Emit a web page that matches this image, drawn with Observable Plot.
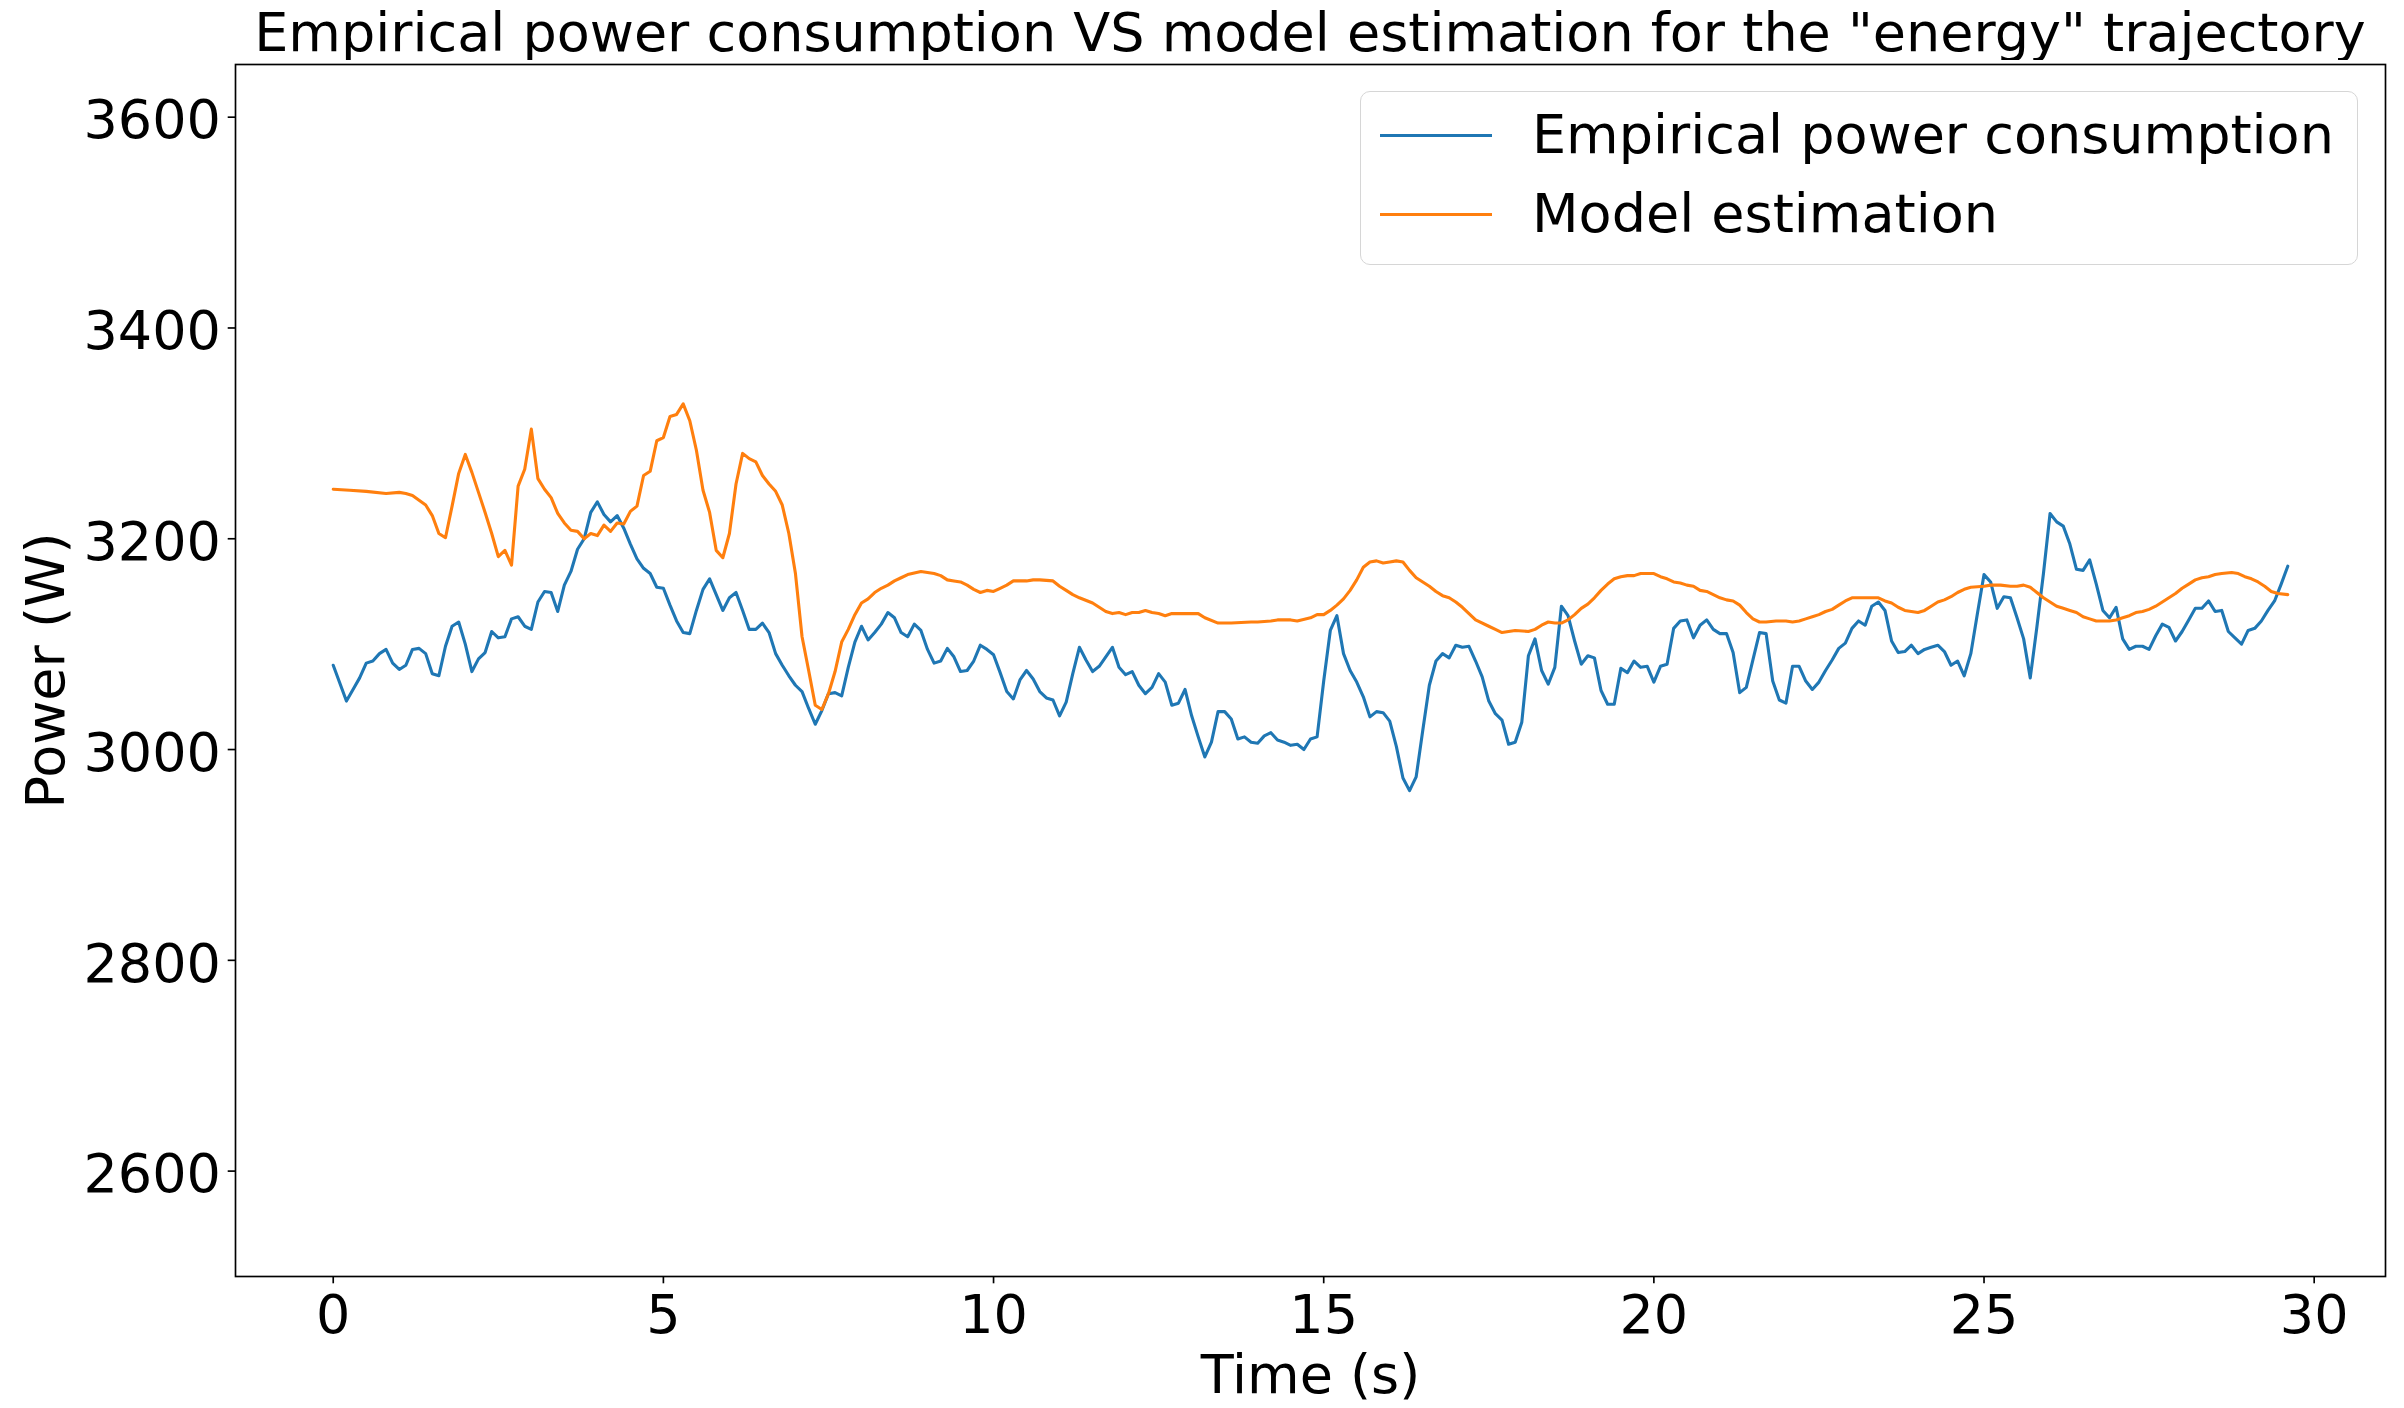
<!DOCTYPE html>
<html>
<head>
<meta charset="utf-8">
<script src="https://cdn.jsdelivr.net/npm/d3@7"></script>
<script src="https://cdn.jsdelivr.net/npm/@observablehq/plot@0.6"></script>
<style>
  html, body { margin: 0; padding: 0; background: white; }
  #wrap { position: relative; width: 2404px; height: 1408px; background: white; font-family: "DejaVu Sans", sans-serif; color: black; overflow: hidden; }
  #title { position: absolute; left: 235px; width: 2150px; top: 6px; text-align: center; font-size: 54px; line-height: 54px; white-space: nowrap; }
  #chart { position: absolute; left: 0; top: 60px; }
  #legend { position: absolute; left: 1360px; top: 91px; width: 998px; height: 174px; box-sizing: border-box; border: 1.67px solid #d6d6d6; border-radius: 10px; background: rgba(255,255,255,0.8); }
  .sw { position: absolute; left: 1380px; width: 112px; height: 3.1px; }
  .lt { position: absolute; left: 1532px; font-size: 54px; line-height: 54px; white-space: nowrap; }
</style>
</head>
<body>
<div id="wrap">
  <div id="title"></div>
  <div id="chart"></div>
  <div id="legend"></div>
  <div class="sw" id="sw0" style="top:133.5px"></div>
  <div class="sw" id="sw1" style="top:212.5px"></div>
  <div class="lt" id="lt0" style="top:108.3px"></div>
  <div class="lt" id="lt1" style="top:187.3px"></div>
</div>
<script>
const titleText = 'Empirical power consumption VS model estimation for the "energy" trajectory';
const seriesNames = ["Empirical power consumption", "Model estimation"];
const seriesColors = ["#1f77b4", "#ff7f0e"];
const xLabel = ["Time (s)"];
const yLabel = ["Power (W)"];
const xTicks = [0, 5, 10, 15, 20, 25, 30];
const yTicks = [2600, 2800, 3000, 3200, 3400, 3600];

const empiricalTime = [
  0, 0.2, 0.3, 0.4, 0.5, 0.6, 0.7, 0.8, 0.9, 1.0, 1.1, 1.2, 1.3, 1.4, 1.5, 1.6, 1.7, 1.8, 1.9, 2.0,
  2.1, 2.2, 2.3, 2.4, 2.5, 2.6, 2.7, 2.8, 2.9, 3.0, 3.1, 3.2, 3.3, 3.4, 3.5, 3.6, 3.7, 3.8, 3.9, 4.0,
  4.1, 4.2, 4.3, 4.4, 4.5, 4.6, 4.7, 4.8, 4.9, 5.0, 5.1, 5.2, 5.3, 5.4, 5.5, 5.6, 5.7,
  5.9, 6.0, 6.1, 6.2, 6.3, 6.4, 6.5, 6.6, 6.7, 6.8, 6.9, 7.0, 7.1, 7.2, 7.3, 7.4, 7.5, 7.6, 7.7, 7.8,
  7.9, 8.0, 8.1, 8.2, 8.3, 8.4, 8.5, 8.6, 8.7, 8.8, 8.9, 9.0, 9.1, 9.2, 9.3, 9.4, 9.5, 9.6, 9.7, 9.8,
  9.9, 10.0, 10.1, 10.2, 10.3, 10.4, 10.5, 10.6, 10.7, 10.8, 10.9, 11.0, 11.1, 11.2, 11.3, 11.4, 11.5,
  11.6, 11.7, 11.8, 11.9,
  12.0, 12.1, 12.2, 12.3, 12.4, 12.5, 12.6, 12.7, 12.8, 12.9, 13.0, 13.1, 13.2, 13.3, 13.4, 13.5, 13.6,
  13.7, 13.8, 13.9, 14.0, 14.1, 14.2, 14.3, 14.4, 14.5, 14.6, 14.7, 14.8, 14.9, 15.0, 15.1, 15.2, 15.3,
  15.4, 15.5, 15.6, 15.7, 15.8, 15.9, 16.0, 16.1, 16.2, 16.3, 16.4, 16.5, 16.6, 16.7, 16.8, 16.9, 17.0,
  17.1, 17.2, 17.3, 17.4, 17.5, 17.6, 17.7, 17.8, 17.9,
  18.0, 18.1, 18.2, 18.3, 18.4, 18.5, 18.6, 18.7, 18.8, 18.9, 19.0, 19.1, 19.2, 19.3, 19.4, 19.5, 19.6,
  19.7, 19.8, 19.9, 20.0, 20.1, 20.2, 20.3, 20.4, 20.5, 20.6, 20.7, 20.8, 20.9, 21.0, 21.1, 21.2, 21.3,
  21.4, 21.5, 21.6, 21.7, 21.8, 21.9, 22.0, 22.1, 22.2, 22.3, 22.4, 22.5, 22.6, 22.7, 22.8, 22.9, 23.0,
  23.1, 23.2, 23.3, 23.4, 23.5, 23.6, 23.7, 23.8, 23.9, 24.0,
  24.1, 24.2, 24.3, 24.4, 24.5, 24.6, 24.7, 24.8, 24.9, 25.0, 25.1, 25.2, 25.3, 25.4, 25.5, 25.6, 25.7,
  25.8, 25.9, 26.0, 26.1, 26.2, 26.3, 26.4, 26.5, 26.6, 26.7, 26.8, 26.9, 27.0, 27.1, 27.2, 27.3, 27.4,
  27.5, 27.6, 27.7, 27.8, 27.9, 28.0, 28.1, 28.2, 28.3, 28.4, 28.5, 28.6, 28.7, 28.8, 28.9, 29.0, 29.1,
  29.2, 29.3, 29.4, 29.5, 29.6
];
const empiricalPower = [
  3080, 3046, 3057, 3068, 3082, 3084, 3091, 3095, 3082, 3076, 3080, 3095, 3096, 3091, 3072, 3070, 3098, 3117, 3121, 3100,
  3074, 3086, 3092, 3112, 3106, 3107, 3124, 3126, 3117, 3114, 3140, 3150, 3149, 3131, 3156, 3169, 3190, 3200, 3225, 3235,
  3223, 3216, 3222, 3210, 3195, 3181, 3172, 3167, 3154, 3153, 3137, 3122, 3111, 3110, 3132, 3152, 3162,
  3132, 3144, 3149, 3132, 3114, 3114, 3120, 3111, 3091, 3080, 3070, 3061, 3055, 3039, 3024, 3037, 3053, 3054, 3051, 3078,
  3102, 3117, 3104, 3111, 3119, 3130, 3125, 3111, 3107, 3119, 3113, 3095, 3082, 3084, 3096, 3088, 3074, 3075, 3084, 3099,
  3095, 3090, 3073, 3055, 3048, 3066, 3075, 3067, 3055, 3049, 3047, 3032, 3045, 3072, 3097, 3085, 3074,
  3079, 3088, 3097, 3078,
  3071, 3074, 3061, 3053, 3059, 3072, 3064, 3042, 3044, 3057, 3032, 3012, 2993, 3007, 3036, 3036, 3029,
  3010, 3012, 3007, 3006, 3013, 3016, 3009, 3007, 3004, 3005, 3000, 3010, 3012, 3065, 3113, 3127, 3091,
  3075, 3064, 3050, 3031, 3036, 3035, 3027, 3003, 2973, 2961, 2974, 3018, 3061, 3084, 3091, 3087, 3099,
  3097, 3098, 3084, 3069, 3046, 3034, 3028, 3005, 3007,
  3026, 3089, 3105, 3075, 3062, 3078, 3136, 3127, 3103, 3081, 3089, 3087, 3056, 3043, 3043, 3077, 3073,
  3084, 3078, 3079, 3064, 3079, 3081, 3115, 3122, 3123, 3106, 3118, 3123, 3114, 3110, 3110, 3092, 3054,
  3059, 3085, 3111, 3110, 3065, 3047, 3044, 3079, 3079, 3065, 3057, 3064, 3075, 3085, 3096, 3101, 3115,
  3122, 3118, 3136, 3140, 3132, 3103, 3092, 3093, 3099, 3091,
  3095, 3097, 3099, 3093, 3080, 3084, 3070, 3091, 3129, 3166, 3159, 3134, 3145, 3144, 3125, 3105, 3068,
  3116, 3167, 3224, 3216, 3212, 3195, 3171, 3170, 3180, 3157, 3132, 3125, 3135, 3105, 3095, 3098, 3098,
  3095, 3108, 3119, 3116, 3103, 3112, 3123, 3134, 3134, 3141, 3131, 3132, 3112, 3106, 3100, 3113, 3115,
  3122, 3132, 3141, 3157, 3174
];

const modelTime = [
  0, 0.25, 0.5, 0.8, 1.0, 1.1, 1.2, 1.4, 1.5, 1.6, 1.7, 1.8, 1.9, 2.0, 2.1, 2.2, 2.3, 2.4, 2.5, 2.6,
  2.7, 2.8, 2.9, 3.0, 3.1, 3.2, 3.3, 3.4, 3.5, 3.6, 3.7, 3.8, 3.9, 4.0, 4.1, 4.2, 4.3, 4.4, 4.5, 4.6,
  4.7, 4.8, 4.9, 5.0, 5.1, 5.2, 5.3, 5.4, 5.5, 5.6, 5.7, 5.8,
  5.9, 6.0, 6.1, 6.2, 6.3, 6.4, 6.5, 6.6, 6.7, 6.8, 6.9, 7.0, 7.1, 7.2, 7.3, 7.4, 7.5, 7.6, 7.7, 7.8,
  7.9, 8.0, 8.1, 8.2, 8.3, 8.4, 8.5, 8.6, 8.7, 8.9, 9.1, 9.2, 9.3, 9.4, 9.5, 9.6, 9.7, 9.8, 9.9, 10.0,
  10.1, 10.2, 10.3, 10.5, 10.6, 10.7, 10.9, 11.0, 11.1, 11.2, 11.3, 11.5, 11.6, 11.7, 11.8, 11.9,
  12.0, 12.1, 12.2, 12.3, 12.4, 12.5, 12.6, 12.7, 12.9, 13.1, 13.2, 13.4, 13.6, 13.9, 14.0, 14.2, 14.3,
  14.5, 14.6, 14.8, 14.9, 15.0, 15.1, 15.2, 15.3, 15.4, 15.5, 15.6, 15.7, 15.8, 15.9, 16.0, 16.1, 16.2,
  16.3, 16.4, 16.5, 16.6, 16.7, 16.8, 16.9, 17.0, 17.1, 17.2, 17.3, 17.5, 17.6, 17.7, 17.8,
  17.9, 18.1, 18.2, 18.3, 18.4, 18.5, 18.6, 18.7, 18.8, 18.9, 19.0, 19.1, 19.2, 19.3, 19.4, 19.5, 19.6,
  19.7, 19.8, 20.0, 20.1, 20.2, 20.3, 20.4, 20.5, 20.6, 20.7, 20.8, 20.9, 21.0, 21.1, 21.2, 21.3, 21.4,
  21.5, 21.6, 21.7, 21.85, 22.0, 22.1, 22.2, 22.3, 22.4, 22.5, 22.6, 22.7, 22.8, 22.9, 23.0, 23.1, 23.3,
  23.4, 23.5, 23.6, 23.7, 23.8, 23.9,
  24.0, 24.1, 24.2, 24.3, 24.4, 24.5, 24.6, 24.7, 24.8, 25.0, 25.1, 25.25, 25.4, 25.5, 25.6, 25.7, 25.8,
  25.9, 26.0, 26.1, 26.2, 26.3, 26.4, 26.5, 26.6, 26.7, 26.8, 26.9, 27.0, 27.1, 27.2, 27.3, 27.4, 27.5,
  27.6, 27.7, 27.8, 27.9, 28.0, 28.1, 28.2, 28.3, 28.4, 28.5, 28.6, 28.75, 28.85, 28.95, 29.05, 29.15,
  29.25, 29.35, 29.45, 29.6
];
const modelPower = [
  3247, 3246, 3245, 3243, 3244, 3243, 3241, 3232, 3222, 3205, 3201, 3231, 3262, 3280, 3263, 3244, 3225, 3205, 3183, 3189,
  3175, 3250, 3266, 3304, 3257, 3247, 3239, 3224, 3215, 3208, 3207, 3200, 3205, 3203, 3213, 3207, 3215, 3214, 3226, 3231,
  3260, 3264, 3293, 3296, 3316, 3318, 3328, 3312, 3284, 3246, 3225, 3189,
  3182, 3205, 3252, 3281, 3276, 3273, 3260, 3252, 3245, 3232, 3205, 3167, 3107, 3075, 3042, 3038, 3053, 3074, 3102, 3114,
  3128, 3139, 3143, 3149, 3153, 3156, 3160, 3163, 3166, 3169, 3167, 3165, 3161, 3160, 3159, 3156, 3152, 3149, 3151, 3150,
  3153, 3156, 3160, 3160, 3161, 3161, 3160, 3155, 3151, 3147, 3144, 3139, 3135, 3131, 3129, 3130,
  3128, 3130, 3130, 3132, 3130, 3129, 3127, 3129, 3129, 3129, 3125, 3120, 3120, 3121, 3121, 3122, 3123,
  3123, 3122, 3125, 3128, 3128, 3132, 3137, 3143, 3151, 3161, 3173, 3178, 3179, 3177, 3178, 3179, 3178,
  3170, 3163, 3159, 3155, 3150, 3146, 3144, 3140, 3135, 3129, 3123, 3117, 3114, 3111, 3112,
  3113, 3112, 3114, 3118, 3121, 3120, 3120, 3123, 3128, 3134, 3138, 3144, 3151, 3157, 3162, 3164, 3165,
  3165, 3167, 3167, 3164, 3162, 3159, 3158, 3156, 3155, 3151, 3150, 3147, 3144, 3142, 3141, 3137, 3130,
  3124, 3121, 3121, 3122, 3122, 3121, 3122, 3124, 3126, 3128, 3131, 3133, 3137, 3141, 3144, 3144, 3144,
  3144, 3141, 3139, 3135, 3132, 3131,
  3130, 3132, 3136, 3140, 3142, 3145, 3149, 3152, 3154, 3155, 3156, 3156, 3155, 3155, 3156, 3154, 3149,
  3144, 3140, 3136, 3134, 3132, 3130, 3126, 3124, 3122, 3122, 3122, 3123, 3125, 3127, 3130, 3131, 3133,
  3136, 3140, 3144, 3148, 3153, 3157, 3161, 3163, 3164, 3166, 3167, 3168, 3167, 3164, 3162, 3159,
  3155, 3150, 3148, 3147
];

const empirical = empiricalTime.map((t, i) => ({t, p: empiricalPower[i]}));
const model = modelTime.map((t, i) => ({t, p: modelPower[i]}));

document.getElementById("title").textContent = titleText;
document.getElementById("lt0").textContent = seriesNames[0];
document.getElementById("lt1").textContent = seriesNames[1];
document.getElementById("sw0").style.background = seriesColors[0];
document.getElementById("sw1").style.background = seriesColors[1];

const chart = Plot.plot({
  width: 2404,
  height: 1348,
  marginLeft: 235,
  marginRight: 19,
  marginTop: 4,
  marginBottom: 132,
  style: {fontFamily: "DejaVu Sans", fontSize: "54px", background: "white", color: "black", overflow: "visible"},
  x: {domain: [-1.48, 31.08]},
  y: {domain: [2500, 3650]},
  marks: [
    Plot.line(empirical, {x: "t", y: "p", stroke: seriesColors[0], strokeWidth: 3.1}),
    Plot.line(model, {x: "t", y: "p", stroke: seriesColors[1], strokeWidth: 3.1}),
    Plot.frame({stroke: "black", strokeWidth: 1.67}),
    Plot.axisX({ticks: xTicks, tickSize: 7.3, tickPadding: 11, fontSize: 54, label: null, strokeWidth: 1.67, tickFormat: d => String(d)}),
    Plot.axisY({ticks: yTicks, tickSize: 7.3, fontSize: 54, label: null, strokeWidth: 1.67, tickFormat: () => ""}),
    Plot.axisY({ticks: yTicks, tickSize: 0, tickPadding: 14.6, fontSize: 54, label: null, dy: 4, tickFormat: d => String(d)}),
    Plot.text(yLabel, {frameAnchor: "left", text: d => d, rotate: -90, dx: -172, textAnchor: "middle", lineAnchor: "bottom", fontSize: 54}),
    Plot.text(xLabel, {frameAnchor: "bottom", text: d => d, dy: 116, textAnchor: "middle", lineAnchor: "bottom", fontSize: 54})
  ]
});
document.getElementById("chart").appendChild(chart);
</script>
</body>
</html>
